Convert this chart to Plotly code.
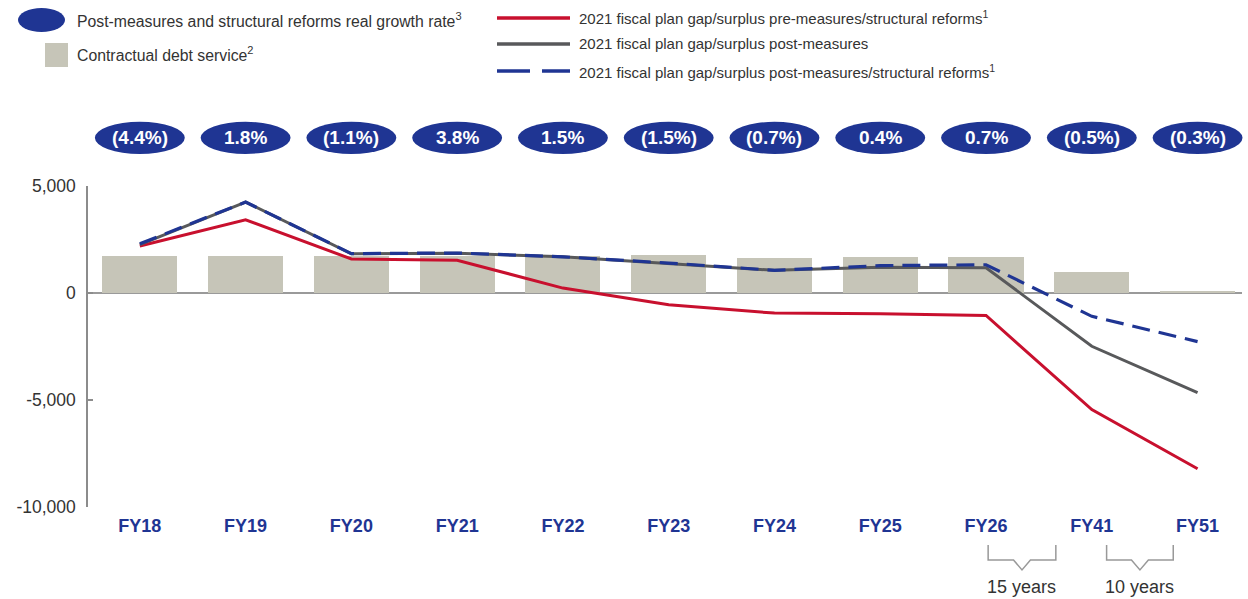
import plotly.graph_objects as go

categories = ["FY18", "FY19", "FY20", "FY21", "FY22", "FY23", "FY24", "FY25", "FY26", "FY41", "FY51"]
growth_labels = ["(4.4%)", "1.8%", "(1.1%)", "3.8%", "1.5%", "(1.5%)", "(0.7%)", "0.4%", "0.7%", "(0.5%)", "(0.3%)"]
debt_service = [1720, 1720, 1750, 1710, 1740, 1760, 1640, 1660, 1660, 1000, 60]
pre_measures = [2200, 3420, 1590, 1530, 230, -550, -940, -970, -1050, -5450, -8210]
post_measures = [2260, 4250, 1830, 1860, 1690, 1380, 1060, 1200, 1180, -2490, -4650]
post_reforms = [2300, 4250, 1840, 1870, 1690, 1400, 1060, 1280, 1320, -1090, -2270]
y_ticks = [5000, 0, -5000, -10000]
y_tick_labels = ["5,000", "0", "-5,000", "-10,000"]
brackets = [(8.02, 8.66, "15 years"), (9.14, 9.77, "10 years")]

NAVY = "#1f3593"
RED = "#c8102e"
GRAY = "#58595b"
BAR = "#c6c5b8"
TXT = "#333333"
FONT = "Liberation Sans, Arial, sans-serif"

xpos = list(range(len(categories)))
XR = [-0.49, 10.42]


def px(v):
    return (v - XR[0]) / (XR[1] - XR[0])


fig = go.Figure()
fig.add_trace(go.Bar(x=xpos, y=debt_service, width=0.71, marker=dict(color=BAR, line=dict(width=0)),
                     name="Contractual debt service", showlegend=False))
fig.add_trace(go.Scatter(x=xpos, y=pre_measures, mode="lines", line=dict(color=RED, width=3),
                         name="2021 fiscal plan gap/surplus pre-measures/structural reforms", showlegend=False))
fig.add_trace(go.Scatter(x=xpos, y=post_measures, mode="lines", line=dict(color=GRAY, width=3),
                         name="2021 fiscal plan gap/surplus post-measures", showlegend=False))
fig.add_trace(go.Scatter(x=xpos, y=post_reforms, mode="lines", line=dict(color=NAVY, width=3.2, dash="18px,9px"),
                         name="2021 fiscal plan gap/surplus post-measures/structural reforms", showlegend=False))

shapes = []
annotations = []

# zero line
shapes.append(dict(type="line", xref="paper", yref="y", x0=0, x1=1, y0=0, y1=0,
                   line=dict(color="#9a9a9a", width=2), layer="below"))

# growth ellipses
EY0, EY1 = 1.10, 1.20
for i, lab in enumerate(growth_labels):
    shapes.append(dict(type="circle", xref="paper", yref="paper",
                       x0=px(i - 0.425), x1=px(i + 0.425), y0=EY0, y1=EY1,
                       fillcolor=NAVY, line=dict(width=0)))
    annotations.append(dict(x=px(i), y=(EY0 + EY1) / 2, xref="paper", yref="paper", text="<b>" + lab + "</b>",
                            showarrow=False, font=dict(color="white", size=19, family=FONT),
                            xanchor="center", yanchor="middle"))

# brackets
for a, b, lab in brackets:
    m = (a + b) / 2
    path = (f"M {px(a)} -0.118 L {px(a)} -0.165 L {px(m - 0.08)} -0.165 L {px(m)} -0.196 "
            f"L {px(m + 0.08)} -0.165 L {px(b)} -0.165 L {px(b)} -0.118")
    shapes.append(dict(type="path", xref="paper", yref="paper", path=path,
                       line=dict(color="#999999", width=1.5)))
    annotations.append(dict(x=px(m), y=-0.25, xref="paper", yref="paper", text=lab, showarrow=False,
                            font=dict(color=TXT, size=18, family=FONT), xanchor="center", yanchor="middle"))

# custom legend (pixel -> paper for layout height)
W, H = 1248, 599
ML, MR, MT, MB = 88, 6, 186, 92
PW, PH = W - ML - MR, H - MT - MB


def lx(p):
    return (p - ML) / PW


def ly(p):
    return (H - MB - p) / PH


shapes.append(dict(type="circle", xref="paper", yref="paper", x0=lx(18), x1=lx(65), y0=ly(32), y1=ly(8),
                   fillcolor=NAVY, line=dict(width=0)))
shapes.append(dict(type="rect", xref="paper", yref="paper", x0=lx(45), x1=lx(68), y0=ly(67), y1=ly(43),
                   fillcolor=BAR, line=dict(width=0)))
leg_left = [(20, "Post-measures and structural reforms real growth rate<sup>3</sup>"),
            (54, "Contractual debt service<sup>2</sup>")]
for yy, t in leg_left:
    annotations.append(dict(x=lx(75), y=ly(yy), xref="paper", yref="paper", text=t, showarrow=False,
                            xanchor="left", yanchor="middle", font=dict(color=TXT, size=15.8, family=FONT)))

shapes.append(dict(type="line", xref="paper", yref="paper", x0=lx(497), x1=lx(570), y0=ly(18), y1=ly(18),
                   line=dict(color=RED, width=3.5)))
shapes.append(dict(type="line", xref="paper", yref="paper", x0=lx(497), x1=lx(570), y0=ly(44), y1=ly(44),
                   line=dict(color=GRAY, width=3.5)))
shapes.append(dict(type="line", xref="paper", yref="paper", x0=lx(497), x1=lx(530), y0=ly(71), y1=ly(71),
                   line=dict(color=NAVY, width=3.5)))
shapes.append(dict(type="line", xref="paper", yref="paper", x0=lx(542), x1=lx(570), y0=ly(71), y1=ly(71),
                   line=dict(color=NAVY, width=3.5)))
leg_right = [(18, "2021 fiscal plan gap/surplus pre-measures/structural reforms<sup>1</sup>"),
             (44, "2021 fiscal plan gap/surplus post-measures"),
             (71, "2021 fiscal plan gap/surplus post-measures/structural reforms<sup>1</sup>")]
for yy, t in leg_right:
    annotations.append(dict(x=lx(577), y=ly(yy), xref="paper", yref="paper", text=t, showarrow=False,
                            xanchor="left", yanchor="middle", font=dict(color=TXT, size=15.0, family=FONT)))

fig.update_layout(
    width=W, height=H,
    margin=dict(l=ML, r=MR, t=MT, b=MB),
    paper_bgcolor="white", plot_bgcolor="white",
    shapes=shapes, annotations=annotations,
    showlegend=False,
    bargap=0,
    xaxis=dict(range=XR, tickmode="array", tickvals=xpos, ticktext=["<b>" + c + "</b>" for c in categories],
               tickfont=dict(color=NAVY, size=18, family=FONT), showgrid=False, zeroline=False,
               showline=False, ticks="", ticklabelstandoff=6),
    yaxis=dict(range=[-10000, 5000], tickmode="array", tickvals=y_ticks, ticktext=y_tick_labels,
               tickfont=dict(color=TXT, size=17.5, family=FONT), showgrid=False, zeroline=False,
               showline=True, linecolor="#8c8c8c", linewidth=1.5, ticks="inside", ticklen=5,
               tickcolor="#8c8c8c", tickwidth=1.5, ticklabelstandoff=7),
)

fig.write_html("out.html", config={"displayModeBar": False},
               post_script="document.body.style.margin='0';document.body.style.padding='0';"
                           "document.body.style.overflow='hidden';")
